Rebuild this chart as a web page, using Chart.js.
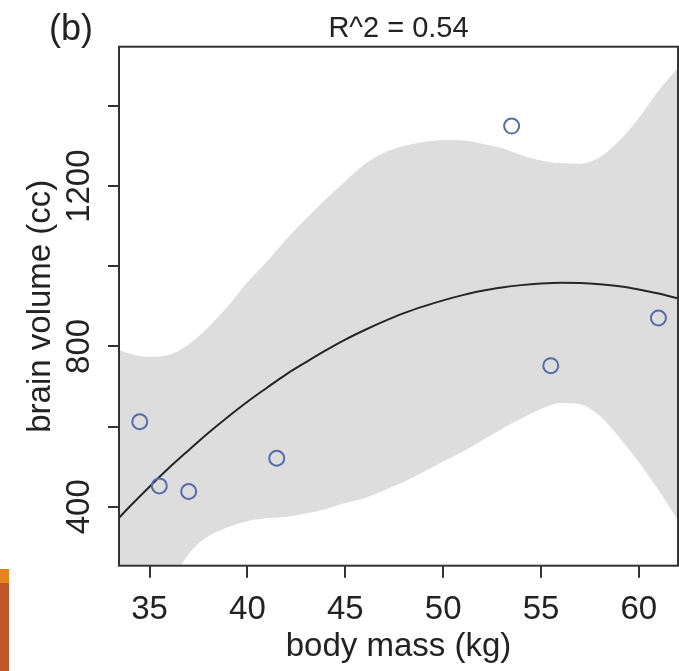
<!DOCTYPE html>
<html>
<head>
<meta charset="utf-8">
<script src="https://cdn.jsdelivr.net/npm/chart.js@4.4.1/dist/chart.umd.min.js"></script>
<style>
  html, body { margin: 0; padding: 0; background: #fff; overflow: hidden; }
  #wrap { position: relative; width: 679px; height: 671px; }
  #myChart { display: block; }
  .strip { position: absolute; left: 0; width: 9px; }
</style>
</head>
<body>
<div id="wrap">
  <canvas id="myChart" width="679" height="671"></canvas>
  <div class="strip" style="top:569px;height:14px;background:#e8841c"></div>
  <div class="strip" style="top:583px;height:88px;background:#c0562a"></div>
</div>
<script>
// observed hominin species
const massKg = [37.0, 35.5, 34.5, 41.5, 55.5, 61.0, 53.5];
const brainCc = [438, 452, 612, 521, 752, 871, 1350];

// fitted curve and its shaded interval
const gridX = [33.44, 34, 35, 36, 37, 38, 39, 40, 41, 42, 43, 44, 45, 46, 47,
               48, 49, 50, 51, 52, 53, 54, 55, 56, 57, 58, 59, 60, 61, 62];
const fitMean = [372, 401, 450, 497, 541, 584, 624, 662, 697, 731, 761, 790, 817, 841, 863,
                 883, 900, 915, 928, 939, 947, 953, 957, 959, 958, 955, 950, 942, 932, 920];
const bandUpper = [791, 782, 774, 779, 805, 848, 900, 960, 1012, 1068, 1119, 1167, 1212, 1255, 1284,
                   1300, 1310, 1315, 1314, 1306, 1295, 1277, 1264, 1257, 1256, 1272, 1313, 1370, 1438, 1495];
const bandLower = [-120, -50, 80, 200, 282, 326, 349, 364, 371, 375, 383, 394, 409, 422, 441,
                   462, 487, 513, 537, 566, 594, 620, 644, 659, 656, 627, 573, 511, 442, 367];

const xTicks = [35, 40, 45, 50, 55, 60];
const yTicks = [400, 600, 800, 1000, 1200, 1400];
const yTickLabels = [400, 800, 1200];

const FONT = "'Liberation Sans', Arial, Helvetica, sans-serif";
const INK = '#222';

function pts(xs, ys) {
    return xs.map((x, i) => ({x: x, y: ys[i]}));
}

const boxPlugin = {
    id: 'boxPlugin',
    afterDraw(chart) {
        const {ctx, chartArea: a} = chart;
        ctx.save();
        ctx.strokeStyle = '#333';
        ctx.lineWidth = 2;
        ctx.strokeRect(a.left, a.top, a.right - a.left, a.bottom - a.top);
        ctx.fillStyle = INK;
        ctx.font = '36px ' + FONT;
        ctx.textBaseline = 'alphabetic';
        ctx.textAlign = 'left';
        ctx.fillText('(b)', 49, 39.5);
        ctx.restore();
    }
};

var ctx = document.getElementById('myChart').getContext('2d');
var myChart = new Chart(ctx, {
    type: 'scatter',
    data: {
        datasets: [
            {
                label: 'species',
                data: pts(massKg, brainCc),
                pointStyle: 'circle',
                pointRadius: 7.5,
                pointBorderWidth: 2,
                pointBorderColor: 'rgb(84,108,170)',
                pointBackgroundColor: 'rgba(0,0,0,0)'
            },
            {
                type: 'line',
                label: 'fit',
                data: pts(gridX, fitMean),
                borderColor: '#262626',
                borderWidth: 2,
                pointRadius: 0,
                cubicInterpolationMode: 'monotone',
                fill: false
            },
            {
                type: 'line',
                label: 'upper',
                data: pts(gridX, bandUpper),
                borderWidth: 0,
                borderColor: 'rgba(0,0,0,0)',
                backgroundColor: 'rgb(221,221,221)',
                pointRadius: 0,
                cubicInterpolationMode: 'monotone',
                fill: '+1'
            },
            {
                type: 'line',
                label: 'lower',
                data: pts(gridX, bandLower),
                borderWidth: 0,
                borderColor: 'rgba(0,0,0,0)',
                pointRadius: 0,
                cubicInterpolationMode: 'monotone',
                fill: false
            }
        ]
    },
    options: {
        responsive: false,
        maintainAspectRatio: false,
        devicePixelRatio: 1,
        animation: false,
        layout: { autoPadding: false, padding: { left: 0, right: 1, top: 0, bottom: 0 } },
        plugins: {
            legend: { display: false },
            tooltip: { enabled: false },
            title: {
                display: true,
                text: 'R^2 = 0.54',
                fullSize: false,
                color: INK,
                font: { family: FONT, size: 29, weight: 'normal', lineHeight: 1 },
                padding: { top: 14.8, bottom: 2.9 }
            }
        },
        scales: {
            x: {
                type: 'linear',
                min: 33.44,
                max: 62.0,
                afterBuildTicks: s => { s.ticks = xTicks.map(v => ({value: v})); },
                afterFit: s => { s.height = 105.3; s.paddingLeft = 0; s.paddingRight = 0; },
                border: { display: false },
                grid: { drawOnChartArea: false, drawTicks: true, tickLength: 12, color: '#333', lineWidth: 2 },
                ticks: {
                    color: INK,
                    font: { family: FONT, size: 33 },
                    padding: 12.8,
                    maxRotation: 0,
                    autoSkip: false
                },
                title: {
                    display: true,
                    text: 'body mass (kg)',
                    color: INK,
                    font: { family: FONT, size: 33, lineHeight: 1 },
                    padding: { top: 0, bottom: 7.9 }
                }
            },
            y: {
                type: 'linear',
                min: 252.8,
                max: 1548,
                afterBuildTicks: s => { s.ticks = yTicks.map(v => ({value: v})); },
                afterFit: s => { s.width = 119; s.paddingTop = 0; s.paddingBottom = 0; },
                border: { display: false },
                grid: { drawOnChartArea: false, drawTicks: true, tickLength: 11, color: '#333', lineWidth: 2 },
                ticks: {
                    color: INK,
                    font: { family: FONT, size: 33 },
                    minRotation: 90,
                    maxRotation: 90,
                    crossAlign: 'center',
                    padding: -9,
                    autoSkip: false,
                    callback: v => yTickLabels.includes(v) ? String(v) : ''
                },
                title: {
                    display: true,
                    text: 'brain volume (cc)',
                    color: INK,
                    font: { family: FONT, size: 33, lineHeight: 1 },
                    padding: { top: 24, bottom: 0 }
                }
            }
        }
    },
    plugins: [boxPlugin]
});
</script>
</body>
</html>
